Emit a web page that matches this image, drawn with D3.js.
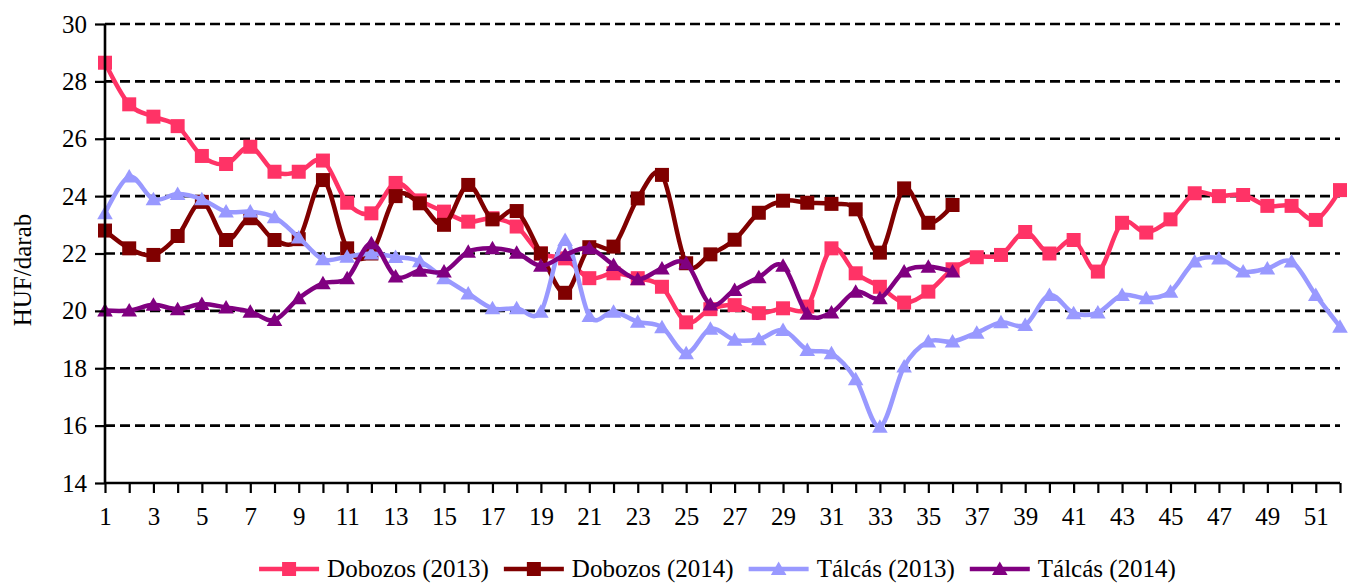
<!DOCTYPE html>
<html>
<head>
<meta charset="utf-8">
<script src="https://cdn.jsdelivr.net/npm/d3@7"></script>
<style>
  html, body { margin: 0; padding: 0; background: #fff; }
  svg { display: block; }
  text { font-family: "Liberation Serif", "Times New Roman", serif; fill: #000; }
</style>
</head>
<body>
<svg id="chart" width="1356" height="583"></svg>
<script>
const weeks = d3.range(1, 53);
const yTicks = [14, 16, 18, 20, 22, 24, 26, 28, 30];
const yTitle = "HUF/darab";

const seriesNames = ["Dobozos (2013)", "Dobozos (2014)", "Tálcás (2013)", "Tálcás (2014)"];
const seriesColors = ["#FF3366", "#800000", "#9999FF", "#800080"];
const seriesMarkers = ["square", "square", "triangle", "triangle"];

const dobozos2013 = [28.65, 27.2, 26.77, 26.44, 25.4, 25.12, 25.72, 24.85, 24.85, 25.24,
  23.77, 23.4, 24.46, 23.85, 23.46, 23.11, 23.23, 22.94, 22.0, 21.83,
  21.14, 21.31, 21.14, 20.84, 19.6, 20.06, 20.2, 19.92, 20.09, 20.15,
  22.18, 21.31, 20.84, 20.29, 20.67, 21.45, 21.87, 21.95, 22.75, 22.0,
  22.47, 21.37, 23.07, 22.73, 23.19, 24.1, 24.0, 24.04, 23.66, 23.66,
  23.17, 24.21];
const dobozos2014 = [22.8, 22.18, 21.95, 22.61, 23.8, 22.47, 23.23, 22.47, 22.5, 24.56,
  22.18, 22.0, 24.0, 23.75, 23.0, 24.39, 23.19, 23.48, 22.0, 20.63,
  22.22, 22.24, 23.92, 24.74, 21.66, 21.97, 22.48, 23.42, 23.84, 23.77,
  23.73, 23.54, 22.03, 24.27, 23.07, 23.69];
const talcas2013 = [23.4, 24.68, 23.89, 24.07, 23.89, 23.46, 23.46, 23.26, 22.56, 21.8,
  21.89, 22.0, 21.88, 21.73, 21.14, 20.61, 20.09, 20.09, 19.97, 22.47,
  19.82, 19.97, 19.62, 19.43, 18.52, 19.38, 18.99, 19.01, 19.33, 18.64,
  18.52, 17.62, 15.96, 18.06, 18.93, 18.93, 19.24, 19.6, 19.51, 20.55,
  19.92, 19.94, 20.55, 20.44, 20.67, 21.72, 21.83, 21.37, 21.48, 21.72,
  20.55, 19.45];
const talcas2014 = [20.01, 20.01, 20.21, 20.06, 20.24, 20.12, 19.97, 19.68, 20.44, 20.96,
  21.14, 22.36, 21.2, 21.4, 21.37, 22.06, 22.18, 22.03, 21.57, 21.95,
  22.18, 21.6, 21.1, 21.48, 21.66, 20.22, 20.73, 21.17, 21.57, 19.9,
  19.94, 20.67, 20.44, 21.37, 21.54, 21.37];

const seriesValues = [dobozos2013, dobozos2014, talcas2013, talcas2014];

const svg = d3.select("#chart");
const plotLeft = 105, plotRight = 1340, plotTop = 24, plotBottom = 483;
const FS = 25;

const x = d3.scaleLinear().domain([1, 52]).range([plotLeft, plotRight]);
const y = d3.scaleLinear().domain([14, 30]).range([plotBottom, plotTop]);

// gridlines
svg.append("g").selectAll("line")
  .data(yTicks.filter(t => t > 14))
  .join("line")
  .attr("x1", plotLeft).attr("x2", plotRight)
  .attr("y1", d => y(d)).attr("y2", d => y(d))
  .attr("stroke", "#000").attr("stroke-width", 2.6)
  .attr("stroke-dasharray", "10,5");

// series
const line = d3.line()
  .x((d, i) => x(weeks[i]))
  .y(d => y(d))
  .curve(d3.curveCardinal.tension(0));

function markerPath(type) {
  if (type === "square") return "M-7,-7H7V7H-7Z";
  return "M0,-7.5L7.8,6L-7.8,6Z";
}

seriesValues.forEach((vals, si) => {
  const g = svg.append("g");
  g.append("path")
    .attr("d", line(vals))
    .attr("fill", "none")
    .attr("stroke", seriesColors[si])
    .attr("stroke-width", 4.5)
    .attr("stroke-linejoin", "round");
  g.selectAll("path.m")
    .data(vals)
    .join("path")
    .attr("class", "m")
    .attr("d", markerPath(seriesMarkers[si]))
    .attr("transform", (d, i) => `translate(${x(weeks[i])},${y(d)})`)
    .attr("fill", seriesColors[si]);
});

// axes
const xAxis = d3.axisBottom(x)
  .tickValues(weeks)
  .tickSize(10)
  .tickPadding(14)
  .tickFormat(d => (d % 2 === 1 ? String(d) : ""));
const gx = svg.append("g").attr("transform", `translate(0,${plotBottom})`).call(xAxis);
gx.select(".domain").attr("d", `M${plotLeft},0H${plotRight}`).attr("stroke", "#000").attr("stroke-width", 2.6);
gx.selectAll(".tick line").attr("stroke", "#000").attr("stroke-width", 2.2);
gx.selectAll(".tick text").attr("font-size", FS).attr("font-family", "Liberation Serif");

const yAxis = d3.axisLeft(y)
  .tickValues(yTicks)
  .tickSize(10)
  .tickPadding(8)
  .tickFormat(d3.format("d"));
const gy = svg.append("g").attr("transform", `translate(${plotLeft},0)`).call(yAxis);
gy.select(".domain").attr("d", `M0,${plotTop}V${plotBottom}`).attr("stroke", "#000").attr("stroke-width", 2.6);
gy.selectAll(".tick line").attr("stroke", "#000").attr("stroke-width", 2.2);
gy.selectAll(".tick text").attr("font-size", FS).attr("font-family", "Liberation Serif");

// y title
svg.append("text")
  .attr("transform", "translate(31,270) rotate(-90)")
  .attr("text-anchor", "middle")
  .attr("font-size", FS)
  .text(yTitle);

// legend
const legend = svg.append("g");
const items = seriesNames.map((name, i) => {
  const g = legend.append("g");
  g.append("line").attr("x1", 0).attr("x2", 60).attr("y1", 0).attr("y2", 0)
    .attr("stroke", seriesColors[i]).attr("stroke-width", 4.5);
  g.append("path").attr("d", markerPath(seriesMarkers[i]))
    .attr("transform", "translate(30,0)").attr("fill", seriesColors[i]);
  const t = g.append("text").attr("x", 68).attr("y", 0).attr("dy", "0.33em")
    .attr("font-size", FS).text(name);
  return { g, w: 68 + t.node().getComputedTextLength() };
});
const gap = 15;
const total = d3.sum(items, d => d.w) + gap * (items.length - 1);
let cx = 717.5 - total / 2;
items.forEach(it => {
  it.g.attr("transform", `translate(${cx},569)`);
  cx += it.w + gap;
});
</script>
</body>
</html>
